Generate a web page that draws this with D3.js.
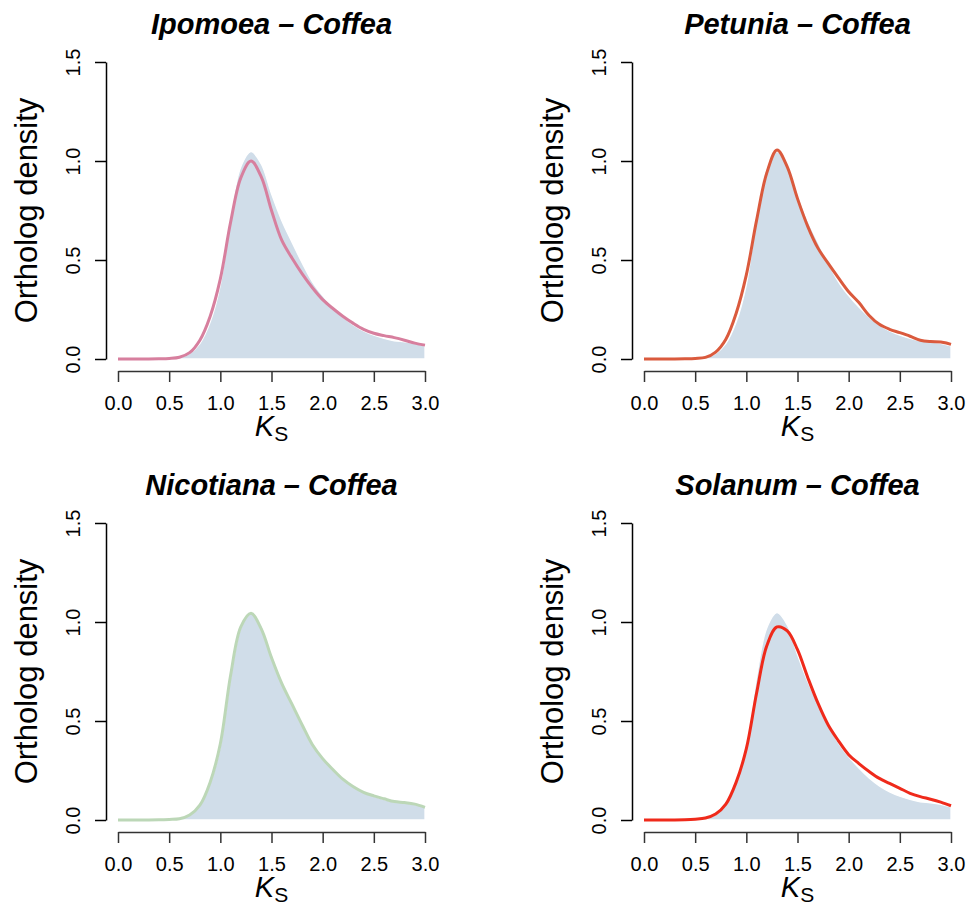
<!DOCTYPE html>
<html>
<head>
<meta charset="utf-8">
<script src="https://cdn.jsdelivr.net/npm/d3@7"></script>
<style>
  body { margin: 0; background: #fff; }
  svg { display: block; font-family: "Liberation Sans", Arial, Helvetica, sans-serif; }
  .title { font-size: 29px; font-weight: bold; font-style: italic; }
  .axis text { font-size: 20px; fill: #000; font-family: "Liberation Sans", Arial, Helvetica, sans-serif; }
  .axis-label { font-size: 31px; }
</style>
</head>
<body>
<div id="chart"></div>
<script>
// Ks grid (x values of the density curves)
var ks = [0.0, 0.1, 0.2, 0.3, 0.4, 0.5, 0.6, 0.7, 0.8, 0.9, 1.0,
          1.1, 1.2, 1.3, 1.4, 1.5, 1.6, 1.7, 1.8, 1.9, 2.0,
          2.1, 2.2, 2.3, 2.4, 2.5, 2.6, 2.7, 2.8, 2.9, 3.0];

// shaded background density (same in every panel)
var background = [0, 0, 0, 0, 0.001, 0.003, 0.008, 0.028, 0.078, 0.185, 0.375,
                  0.72, 0.97, 1.047, 0.985, 0.835, 0.70, 0.59, 0.485, 0.39, 0.32,
                  0.262, 0.212, 0.172, 0.142, 0.12, 0.104, 0.092, 0.087, 0.079, 0.066];

// ortholog density per species pair
var ipomoea = [0, 0, 0, 0, 0.001, 0.003, 0.009, 0.032, 0.095, 0.215, 0.405,
               0.69, 0.915, 1.0, 0.92, 0.75, 0.60, 0.51, 0.43, 0.36, 0.30,
               0.255, 0.215, 0.18, 0.15, 0.13, 0.118, 0.108, 0.095, 0.08, 0.07];
var petunia = [0, 0, 0, 0, 0.001, 0.003, 0.008, 0.035, 0.10, 0.23, 0.425,
               0.70, 0.94, 1.056, 0.97, 0.81, 0.67, 0.56, 0.483, 0.41, 0.34,
               0.285, 0.22, 0.175, 0.15, 0.133, 0.115, 0.095, 0.088, 0.086, 0.074];
var nicotiana = [0, 0, 0, 0, 0.001, 0.003, 0.006, 0.025, 0.075, 0.19, 0.385,
                 0.73, 0.975, 1.044, 0.965, 0.82, 0.69, 0.585, 0.48, 0.38, 0.31,
                 0.255, 0.205, 0.168, 0.14, 0.122, 0.107, 0.093, 0.088, 0.08, 0.064];
var solanum = [0, 0, 0, 0, 0.001, 0.004, 0.01, 0.03, 0.08, 0.19, 0.36,
               0.64, 0.88, 0.975, 0.955, 0.86, 0.72, 0.59, 0.48, 0.40, 0.33,
               0.285, 0.245, 0.21, 0.185, 0.16, 0.135, 0.118, 0.105, 0.09, 0.072];

var species = ["Ipomoea", "Petunia", "Nicotiana", "Solanum"];
var seriesList = [ipomoea, petunia, nicotiana, solanum];
var partner = "Coffea";

var xTicks = [0, 0.5, 1.0, 1.5, 2.0, 2.5, 3.0];
var yTicks = [0, 0.5, 1.0, 1.5];

var lineColors = ["#d77f9e", "#da5a3d", "#bcd7b7", "#ef2a1b"];
var fillColor = "#d0dde9";

var width = 971,
    height = 903;
var colStep = 526,
    rowStep = 461;

var svg = d3.select("#chart").append("svg")
  .attr("width", width)
  .attr("height", height);

// scales for the top-left panel; other panels are shifted with a transform
var xScale = d3.scaleLinear().domain([0, 3]).range([118, 425.0]);
var yScale = d3.scaleLinear().domain([0, 1.5]).range([359, 62]);
var plotLeft = xScale(-0.12), plotRight = xScale(3.12);
var plotCenter = (plotLeft + plotRight) / 2;

var area = d3.area()
  .x(function(d) { return xScale(d[0]); })
  .y0(yScale(0))
  .y1(function(d) { return yScale(d[1]); })
  .curve(d3.curveCatmullRom);

var line = d3.line()
  .x(function(d) { return xScale(d[0]); })
  .y(function(d) { return yScale(d[1]); })
  .curve(d3.curveCatmullRom);

species.forEach(function(name, i) {
  var col = i % 2, row = Math.floor(i / 2);
  var g = svg.append("g")
    .attr("transform", "translate(" + (col * colStep) + "," + (row * rowStep) + ")");

  var bg = ks.map(function(k, j) { return [k, background[j]]; });
  var pts = ks.map(function(k, j) { return [k, seriesList[i][j]]; });

  g.append("path")
    .datum(bg)
    .attr("d", area)
    .attr("fill", fillColor)
    .attr("stroke", "#fff")
    .attr("stroke-width", 1.3);

  g.append("path")
    .datum(pts)
    .attr("d", line)
    .attr("fill", "none")
    .attr("stroke", lineColors[i])
    .attr("stroke-width", 3)
    .attr("stroke-linejoin", "round");

  // x axis
  var xAxis = g.append("g")
    .attr("class", "axis")
    .attr("transform", "translate(0," + (yScale(0) + 12) + ")")
    .call(d3.axisBottom(xScale).tickValues(xTicks).tickSize(11).tickSizeOuter(0)
      .tickFormat(d3.format(".1f")));
  xAxis.selectAll("path, line").attr("stroke", "#333").attr("stroke-width", 1.5);
  xAxis.selectAll("text").attr("y", 39).attr("dy", null);

  // y axis
  var yAxis = g.append("g")
    .attr("class", "axis")
    .attr("transform", "translate(" + (xScale(0) - 12) + ",0)")
    .call(d3.axisLeft(yScale).tickValues(yTicks).tickSize(11).tickSizeOuter(0)
      .tickFormat(d3.format(".1f")));
  yAxis.selectAll("path, line").attr("stroke", "#000").attr("stroke-width", 1.5);
  yAxis.selectAll("text")
    .attr("x", 0)
    .attr("y", -26)
    .attr("dy", null)
    .attr("text-anchor", "middle")
    .attr("transform", "rotate(-90)");

  // title
  g.append("text")
    .attr("class", "title")
    .attr("x", plotCenter)
    .attr("y", 34)
    .attr("text-anchor", "middle")
    .text(name + " \u2013 " + partner);

  // y label
  g.append("text")
    .attr("class", "axis-label")
    .attr("text-anchor", "middle")
    .attr("transform", "translate(37," + ((yScale(-0.06) + yScale(1.56)) / 2) + ") rotate(-90)")
    .text("Ortholog density");

  // x label K_S
  var xl = g.append("text")
    .attr("class", "axis-label")
    .style("font-size", "29px")
    .attr("x", plotCenter)
    .attr("y", 436)
    .attr("text-anchor", "middle");
  xl.append("tspan").style("font-style", "italic").text("K");
  xl.append("tspan").attr("dy", 5).style("font-size", "21px").text("S");
});
</script>
</body>
</html>
